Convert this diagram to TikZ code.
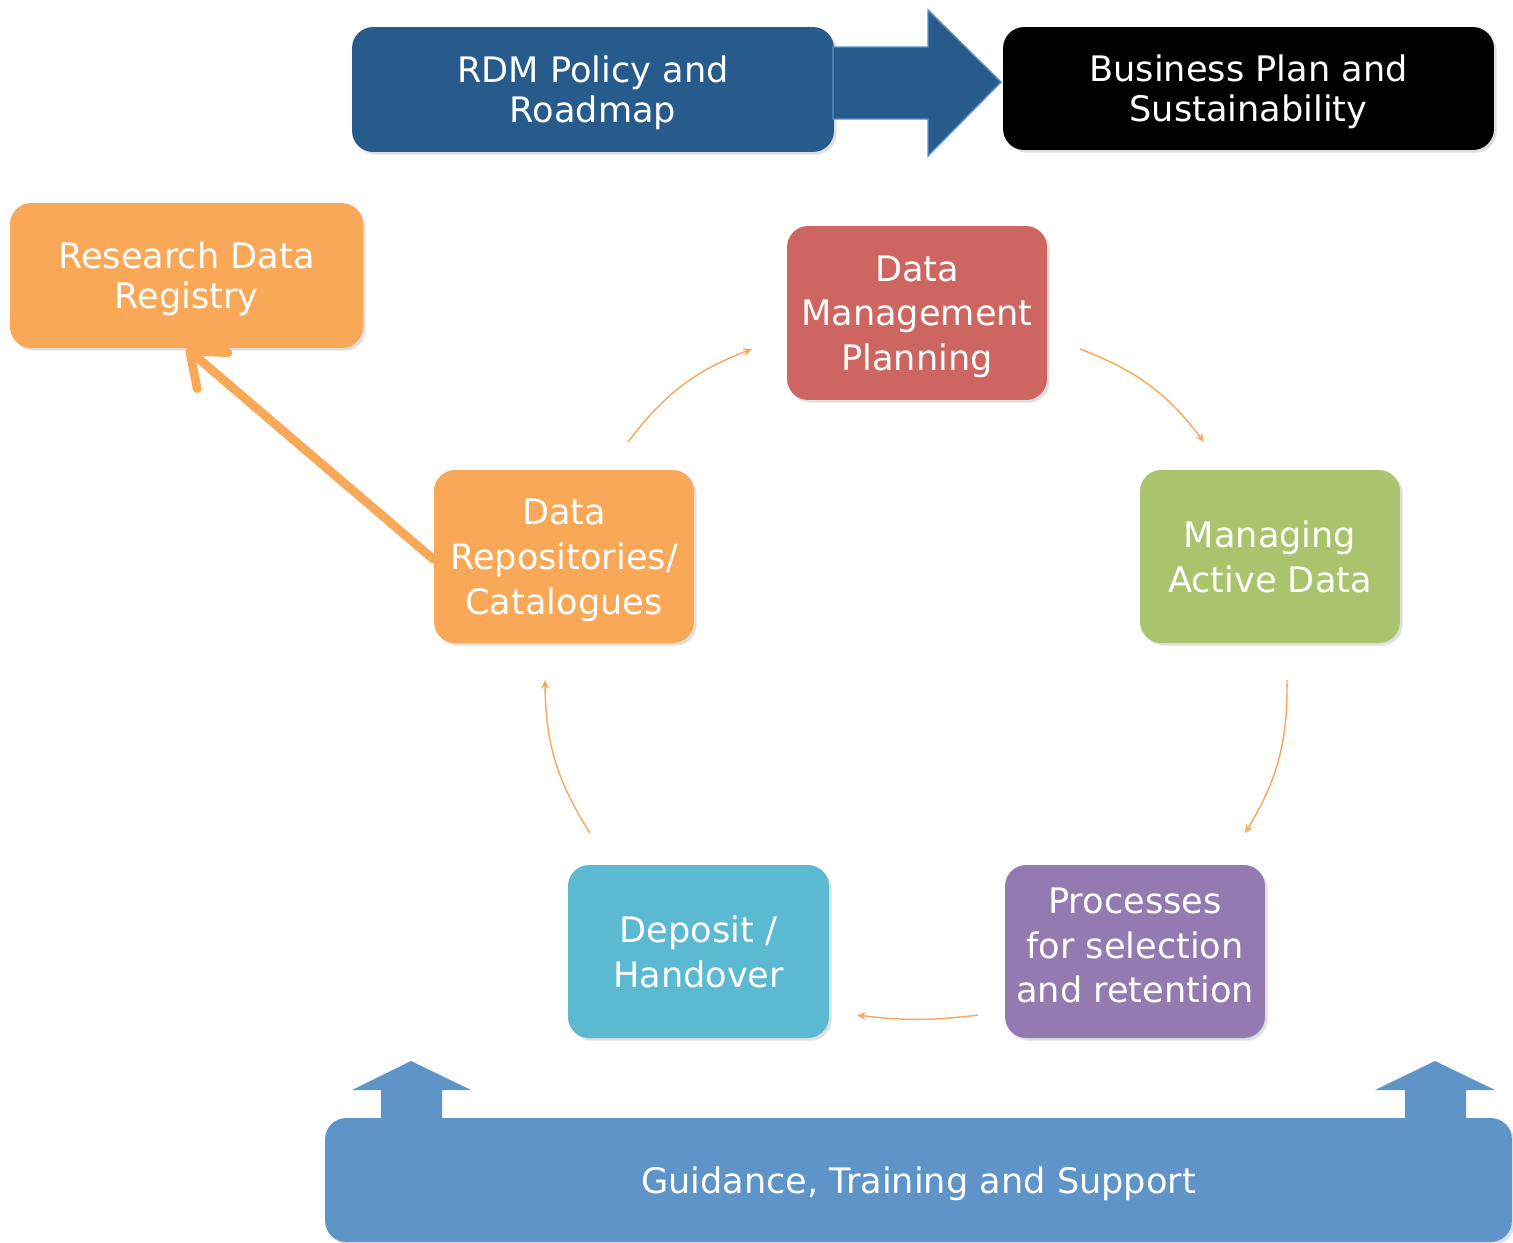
\documentclass[tikz,border=0pt]{standalone}
\usepackage{fontspec}
\newfontfamily\boxfont{DejaVu Sans}
\usetikzlibrary{arrows.meta,shadows}

\definecolor{rdmblue}{HTML}{275B8C}
\definecolor{rdmedge}{HTML}{5B8FC9}
\definecolor{boxorange}{HTML}{F9A857}
\definecolor{boxred}{HTML}{CD6660}
\definecolor{boxgreen}{HTML}{A9C46C}
\definecolor{boxpurple}{HTML}{9579B1}
\definecolor{boxcyan}{HTML}{5BB9D2}
\definecolor{supportblue}{HTML}{5F94C8}

\tikzset{
  block/.style={rounded corners=12pt, text=white, align=center, inner sep=0pt,
    font=\boxfont\fontsize{20}{25.5}\selectfont, text depth=0pt,
    drop shadow={opacity=0.25, shadow xshift=1.5pt, shadow yshift=-1.5pt}},
  topblock/.style={block, font=\boxfont\fontsize{20}{22.7}\selectfont},
  cyc/.style={draw=boxorange, line width=0.8pt, -{Stealth[length=5pt,width=4.5pt]}, bend left=16},
}

\begin{document}
\begin{tikzpicture}[x=0.02cm,y=-0.02cm]
    \useasboundingbox (0,0) rectangle (1513,1242);
    % top row
    \node[topblock, fill=rdmblue, minimum width=9.64cm, minimum height=2.5cm] (rdm) at (593,89.5) {RDM Policy and\\Roadmap};
    \node[topblock, fill=black, minimum width=9.82cm, minimum height=2.46cm] (biz) at (1248.5,88.5) {Business Plan and\\Sustainability};
    \fill[rdmblue, draw=rdmedge, line width=0.8pt] (833,47) -- (928,47) -- (928,10) -- (1001,82) -- (928,156) -- (928,119) -- (833,119) -- cycle;

    \node[block, fill=boxorange, minimum width=7.06cm, minimum height=2.9cm, font=\boxfont\fontsize{20}{22.7}\selectfont] (registry) at (186.5,275.5) {Research Data\\Registry};

    % cycle
    \node[block, fill=boxred, minimum width=5.2cm, minimum height=3.48cm] (dmp) at (917,313) {Data\\Management\\Planning};
    \node[block, fill=boxgreen, minimum width=5.2cm, minimum height=3.46cm] (active) at (1270,556.5) {Managing\\Active Data};
    \node[block, fill=boxpurple, minimum width=5.2cm, minimum height=3.46cm, text depth=7pt] (proc) at (1135,951.5) {Processes\\for selection\\and retention};
    \node[block, fill=boxcyan, minimum width=5.22cm, minimum height=3.46cm] (deposit) at (698.5,951.5) {Deposit /\\Handover};
    \node[block, fill=boxorange, minimum width=5.2cm, minimum height=3.46cm] (repos) at (564,556.5) {Data\\Repositories/\\Catalogues};

    \coordinate (a1) at (628,442);   \coordinate (a2) at (752,349);
    \coordinate (b1) at (1080,349);  \coordinate (b2) at (1204,442);
    \coordinate (c1) at (1287,680);  \coordinate (c2) at (1245,833);
    \coordinate (d1) at (978,1015);  \coordinate (d2) at (857,1015);
    \coordinate (e1) at (590,833);   \coordinate (e2) at (545,680);
    \draw[cyc] (a1) to (a2);
    \draw[cyc] (b1) to (b2);
    \draw[cyc] (c1) to (c2);
    \draw[cyc, bend left=7] (d1) to (d2);
    \draw[cyc] (e1) to (e2);

    \draw[boxorange, line width=5pt, line cap=round, line join=round,
      -{Straight Barb[length=17pt,width=27pt,round]}] (repos.west) ++(0,3) -- (registry.south);

    % support bar
    \fill[supportblue] (381,1118) -- (381,1090) -- (352,1090) -- (411,1061) -- (471,1090) -- (442,1090) -- (442,1118) -- cycle;
    \fill[supportblue] (1405,1118) -- (1405,1090) -- (1375,1090) -- (1435,1061) -- (1495,1090) -- (1466,1090) -- (1466,1118) -- cycle;
    \node[block, fill=supportblue, minimum width=23.74cm, minimum height=2.48cm] (support) at (918.5,1180) {Guidance, Training and Support};
\end{tikzpicture}
\end{document}
